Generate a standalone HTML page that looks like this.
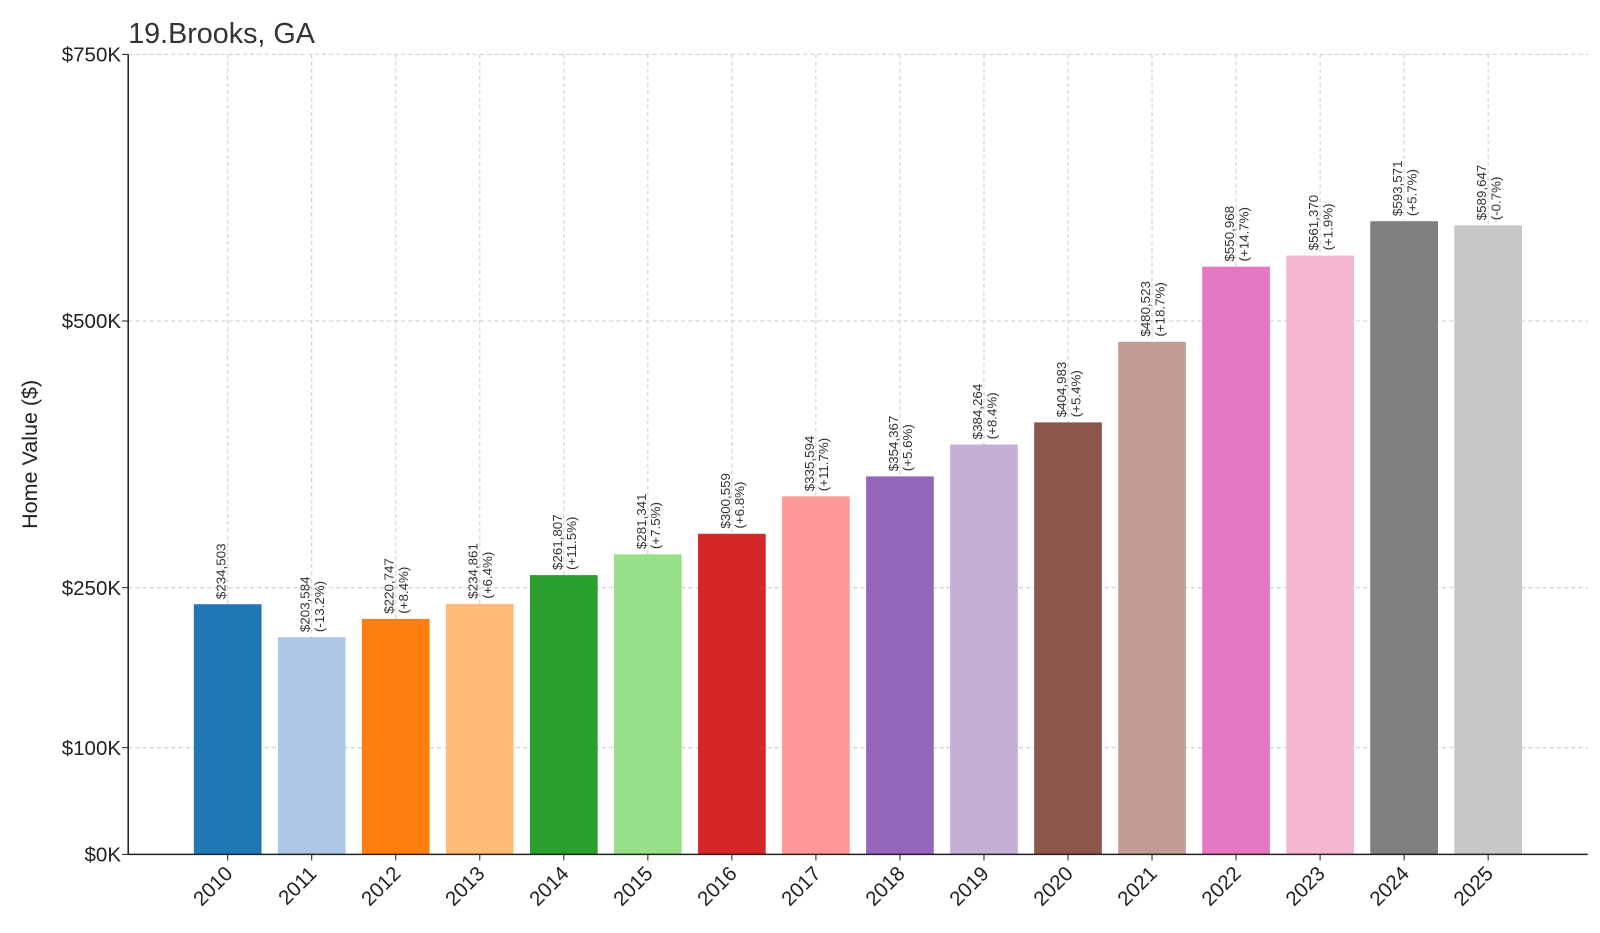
<!DOCTYPE html>
<html><head><meta charset="utf-8"><style>
html,body{margin:0;padding:0;background:#fff;}
svg{display:block;font-family:"Liberation Sans","DejaVu Sans",sans-serif;}
</style></head><body>
<svg id="chart" width="1600" height="933" viewBox="0 0 1600 933">
<g transform="scale(1.02564)">
<text x="125" y="42" font-size="28" fill="#333">19.Brooks, GA</text>
<text transform="translate(36,443) rotate(-90)" text-anchor="middle" font-size="21" fill="#222">Home Value ($)</text>
<g id="grid"></g><g id="bars"></g><g id="labels"></g><g id="axes"></g>
</g>
</svg>
<script>
const years=["2010","2011","2012","2013","2014","2015","2016","2017","2018","2019","2020","2021","2022","2023","2024","2025"];
const values=[234503,203584,220747,234861,261807,281341,300559,335594,354367,384264,404983,480523,550968,561370,593571,589647];
const pcts=["","-13.2%","+8.4%","+6.4%","+11.5%","+7.5%","+6.8%","+11.7%","+5.6%","+8.4%","+5.4%","+18.7%","+14.7%","+1.9%","+5.7%","-0.7%"];
const colors=["#1f77b4","#aec7e8","#ff7f0e","#ffbb78","#2ca02c","#98df8a","#d62728","#ff9896","#9467bd","#c5b0d5","#8c564b","#c49c94","#e377c2","#f7b6d2","#7f7f7f","#c7c7c7"];
const yTicks=[0,100000,250000,500000,750000];
const yTickLabels=["$0K","$100K","$250K","$500K","$750K"];
const NS="http://www.w3.org/2000/svg";
const X0=125,X1=1548,Y0=833,Y1=53,YMAX=750000;
const y=v=>Y0-(v/YMAX)*(Y0-Y1);
const step=81.93;
const x=i=>222+i*step;
const bw=66;
function mk(t,a,p){const e=document.createElementNS(NS,t);for(const k in a)e.setAttribute(k,a[k]);p.appendChild(e);return e;}
const grid=document.getElementById('grid'),bars=document.getElementById('bars'),labels=document.getElementById('labels'),axes=document.getElementById('axes');
yTicks.forEach((t,i)=>{
 const gl=mk('line',{x1:X0,x2:X1,y1:y(t),y2:y(t),stroke:'#ccc','stroke-dasharray':'4,3','stroke-width':1},grid);
 
 
 const tk=mk('line',{x1:X0-6,x2:X0,y1:y(t),y2:y(t),stroke:'#222','stroke-width':1},axes);
 
 
 const tl=mk('text',{x:X0-7,y:y(t)+7,'text-anchor':'end','font-size':20,fill:'#222'},axes);
 tl.textContent=yTickLabels[i];
 
 
});
years.forEach((yr,i)=>{
 const cx=x(i);
 const vl=mk('line',{x1:cx,x2:cx,y1:Y1,y2:Y0,stroke:'#ccc','stroke-dasharray':'4,3','stroke-width':1},grid);
 
 
 const b=mk('rect',{x:cx-bw/2,y:y(values[i]),width:bw,height:Y0-y(values[i]),fill:colors[i]},bars);
 
 
 const top=y(values[i])-5;
 const t1=mk('text',{transform:`translate(${cx-2},${top}) rotate(-90)`,'font-size':13,fill:'#333'},labels);
 t1.textContent='$'+values[i].toLocaleString('en-US');
 
 
 if(pcts[i]){
  const t2=mk('text',{transform:`translate(${cx+12},${top}) rotate(-90)`,'font-size':13,fill:'#333'},labels);
  t2.textContent='('+pcts[i]+')';
  
  
 }
 const xt=mk('line',{x1:cx,x2:cx,y1:Y0,y2:Y0+6,stroke:'#222'},axes);
 
 
 const xl=mk('text',{transform:`translate(${cx+6},${Y0+20}) rotate(-45)`,'text-anchor':'end','font-size':20,fill:'#222'},axes);
 xl.textContent=yr;
 
 
});
const ls=mk('line',{x1:X0,x2:X0,y1:Y1,y2:Y0,stroke:'#222','stroke-width':1.5},axes);


const bs=mk('line',{x1:X0,x2:X1,y1:Y0,y2:Y0,stroke:'#222','stroke-width':1.5},axes);


</script>
</body></html>
